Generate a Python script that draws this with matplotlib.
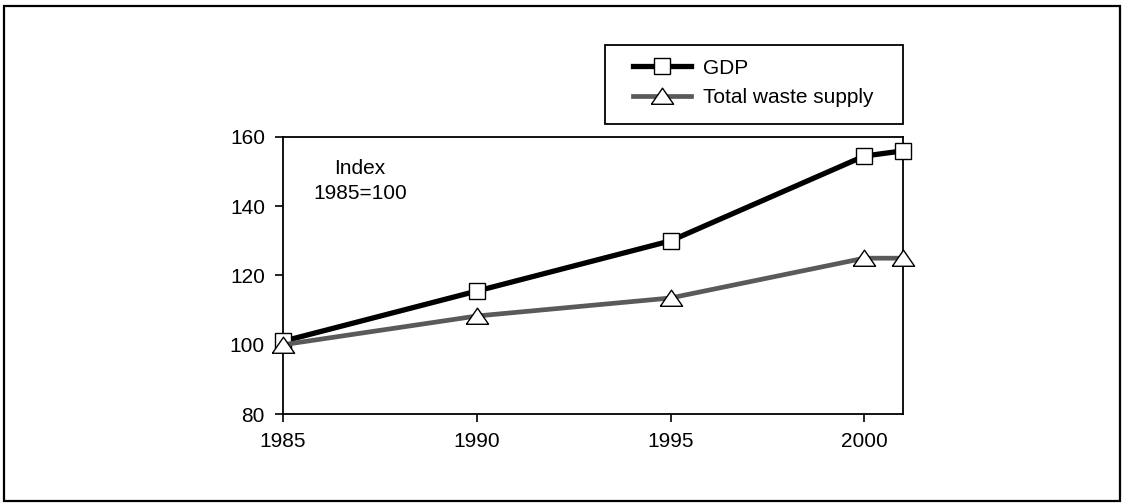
import matplotlib.pyplot as plt
from matplotlib.patches import Rectangle
from matplotlib.lines import Line2D

# values (index, 1985 = 100)
years = [1985, 1990, 1995, 2000, 2001]
gdp = [101, 115.5, 130, 154.5, 156]
waste = [100, 108.3, 113.5, 125, 125]

x_ticks = [1985, 1990, 1995, 2000]
y_ticks = [80, 100, 120, 140, 160]

plt.rcParams['font.family'] = ['Liberation Sans', 'DejaVu Sans']
fs = 15

fig = plt.figure(figsize=(11.22, 5.03), dpi=100)
W, H = 1122, 503

# outer frame round the whole picture
fig.patches.append(Rectangle((4 / W, 1 - 501 / H), (1120 - 4) / W, (501 - 6) / H,
                             transform=fig.transFigure, fill=False,
                             edgecolor='black', linewidth=1.6))

ax = fig.add_axes([283 / W, 1 - 414 / H, (903 - 283) / W, (414 - 137) / H])

tri = [(-1, -0.7), (1, -0.7), (0, 0.75), (-1, -0.7)]

ax.plot(years, gdp, color='black', linewidth=3.8, marker='s',
        markersize=11.5, markerfacecolor='white', markeredgecolor='black',
        markeredgewidth=1.0, clip_on=False, zorder=3)
ax.plot(years, waste, color='#5a5a5a', linewidth=3.4, marker=tri,
        markersize=16, markerfacecolor='white', markeredgecolor='black',
        markeredgewidth=1.0, clip_on=False, zorder=4)

ax.set_xlim(1985, 2001)
ax.set_ylim(80, 160)
ax.set_xticks(x_ticks)
ax.set_yticks(y_ticks)
ax.tick_params(axis='both', direction='out', length=6, width=1.2,
               labelsize=fs, color='black')
ax.tick_params(axis='y', pad=7)
ax.tick_params(axis='x', pad=7)
for s in ax.spines.values():
    s.set_linewidth(1.3)
    s.set_color('black')

ax.text(0.124, 0.841, 'Index\n1985=100', transform=ax.transAxes,
        ha='center', va='center', multialignment='center',
        fontsize=fs, linespacing=1.45)

# legend: frame drawn separately so the padding can match
fig.patches.append(Rectangle((605 / W, 1 - 124 / H), (903 - 605) / W, (124 - 45) / H,
                             transform=fig.transFigure, fill=False,
                             edgecolor='black', linewidth=1.3))
handles = [
    Line2D([], [], color='black', linewidth=3.8, marker='s', markersize=11.5,
           markerfacecolor='white', markeredgecolor='black', markeredgewidth=1.0),
    Line2D([], [], color='#5a5a5a', linewidth=3.4, marker=tri, markersize=16,
           markerfacecolor='white', markeredgecolor='black', markeredgewidth=1.0),
]
fig.legend(handles, ['GDP', 'Total waste supply'], loc='center left',
           bbox_to_anchor=(633 / W, 1 - 83 / H), bbox_transform=fig.transFigure,
           frameon=False, fontsize=fs, handlelength=2.8, handletextpad=0.55,
           labelspacing=0.5, borderpad=0, borderaxespad=0)

fig.savefig('out.png', dpi=100)
